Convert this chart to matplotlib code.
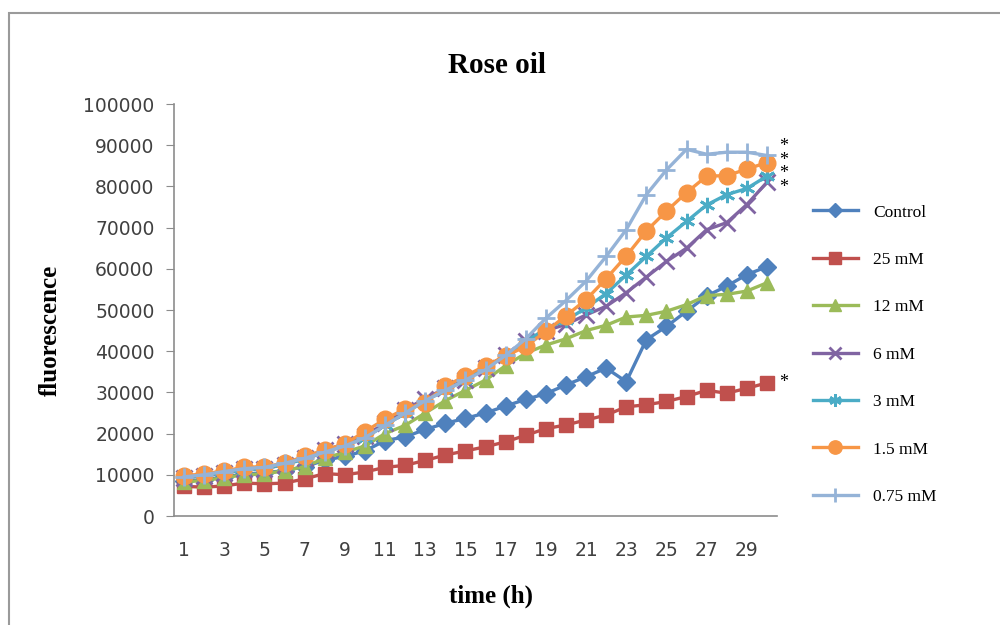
import matplotlib.pyplot as plt
from matplotlib.patches import Rectangle

# Fluorescence readings per hour for each treatment
hours = list(range(1, 31))
control = [8500, 8800, 9500, 10200, 10500, 11000, 12000, 13500, 14500, 15800,
           18300, 19200, 21000, 22500, 23700, 25000, 26700, 28300, 29700, 31800,
           33800, 35900, 32600, 42800, 46000, 49700, 53400, 55800, 58600, 60500]
mm25 = [7200, 7000, 7300, 8000, 7800, 8000, 9000, 10300, 10000, 10700,
        11800, 12300, 13500, 14800, 15800, 16800, 18000, 19600, 21200, 22100,
        23300, 24500, 26500, 27000, 27800, 29000, 30500, 29800, 31000, 32300]
mm12 = [8300, 8600, 9300, 10000, 10200, 11000, 12000, 14000, 15500, 17000,
        20000, 22000, 25000, 28000, 30500, 33000, 36500, 39500, 41500, 43000,
        45000, 46300, 48300, 48700, 49700, 51300, 53500, 53800, 54600, 56600]
mm6 = [9300, 9800, 10500, 11300, 11500, 12500, 14000, 16000, 17500, 19500,
       22500, 25800, 28500, 31000, 33000, 36000, 39000, 42500, 45000, 46500,
       48800, 50900, 54200, 58000, 61800, 65000, 69500, 71200, 75600, 81000]
mm3 = [9300, 9800, 10500, 11200, 11500, 12500, 13800, 15500, 17000, 19000,
       22000, 25000, 28000, 30500, 33000, 36000, 39000, 42300, 45500, 47500,
       50500, 54000, 58500, 63000, 67500, 71500, 75500, 78000, 79500, 82500]
mm15 = [9800, 10200, 11000, 11800, 12000, 12800, 14500, 16000, 17500, 20500,
        23500, 26000, 27500, 31500, 34000, 36500, 38800, 41200, 44800, 48600,
        52500, 57600, 63100, 69200, 74000, 78500, 82500, 82600, 84200, 85800]
mm075 = [9500, 10000, 10800, 11500, 11800, 12800, 14000, 15500, 17000, 19000,
         22000, 25000, 28000, 30500, 33000, 35500, 39000, 43000, 48000, 52300,
         57000, 63000, 69500, 78000, 84000, 89000, 87800, 88300, 88300, 87500]

labels = ['Control', '25 mM', '12 mM', '6 mM', '3 mM', '1.5 mM', '0.75 mM']
series = [control, mm25, mm12, mm6, mm3, mm15, mm075]
colors = ['#4F81BD', '#C0504D', '#9BBB59', '#8064A2', '#4BACC6', '#F79646', '#95B3D7']
markers = ['D', 's', '^', 'x', (6, 2, 0), 'o', '+']
msizes = [9.5, 10.5, 10.5, 11, 11, 12, 13]

fig = plt.figure(figsize=(10, 6.25), dpi=100)
fig.patches.append(Rectangle((0.009, -0.1), 1.2, 1.08, transform=fig.transFigure,
                             fill=False, edgecolor='#9a9a9a', linewidth=1.5))

ax = fig.add_axes([0.174, 0.1744, 0.603, 0.6592])
for vals, lab, c, m, ms in zip(series, labels, colors, markers, msizes):
    thin = m in ('x', '+') or isinstance(m, tuple)
    ax.plot(hours, vals, color=c, marker=m, markersize=ms, linewidth=2.4,
            markeredgewidth=2 if thin else 1, markeredgecolor=c, label=lab)

ax.set_xlim(0.5, 30.5)
ax.set_ylim(0, 100000)
ax.set_yticks(range(0, 100001, 10000))
ax.set_xticks(hours[::2])
for s in ['top', 'right']:
    ax.spines[s].set_visible(False)
for s in ['left', 'bottom']:
    ax.spines[s].set_color('#8c8c8c')
    ax.spines[s].set_linewidth(1.2)
ax.tick_params(axis='y', length=6, color='#8c8c8c', pad=8, labelsize=13.5,
               labelcolor='#404040')
ax.tick_params(axis='x', length=0, pad=18, labelsize=13.5, labelcolor='#404040')

# significance marks next to the curve ends
ax.text(30.6, 84700, '*\n*\n*\n*', fontsize=13, family='Liberation Serif',
        ha='left', va='center', linespacing=0.72, clip_on=False)
ax.text(30.6, 32400, '*', fontsize=13, family='Liberation Serif',
        ha='left', va='center', clip_on=False)

fig.text(0.497, 0.895, 'Rose oil', ha='center', va='center',
         family='Liberation Serif', fontweight='bold', fontsize=21)
fig.text(0.050, 0.472, 'fluorescence', ha='center', va='center', rotation=90,
         family='Liberation Serif', fontweight='bold', fontsize=18)
fig.text(0.491, 0.046, 'time (h)', ha='center', va='center',
         family='Liberation Serif', fontweight='bold', fontsize=18)

fig.legend(loc='upper left', bbox_to_anchor=(0.797, 0.698), frameon=False,
           prop={'family': 'Liberation Serif', 'size': 12.5}, markerscale=0.8,
           handlelength=2.6, handletextpad=0.9, labelspacing=1.8)

plt.savefig('out.png', dpi=100)
